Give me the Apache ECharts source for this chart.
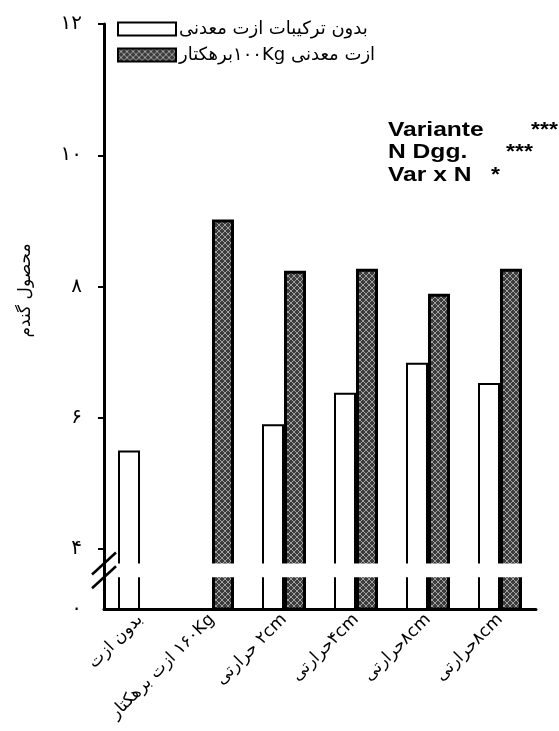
<!DOCTYPE html>
<html><head><meta charset="utf-8">
<script src="https://cdn.jsdelivr.net/npm/echarts@6/dist/echarts.min.js"></script>
<style>html,body{margin:0;padding:0;background:#fff}#c{width:559px;height:731px}</style>
</head><body><div id="c"></div>
<script>
// ---- data ----
const categories = ['بدون ازت', '۱۶۰Kg ازت برهکتار', '۲cm حرارتی', '۴cmحرارتی', '۸cmحرارتی', '۸cmحرارتی\u200B'];
const seriesNames = ['بدون ترکیبات ازت معدنی', 'ازت معدنی ۱۰۰Kgبرهکتار'];
const noMineralN = [5.5, null, 5.9, 6.38, 6.84, 6.53];
const withMineralN = [null, 9.02, 8.24, 8.27, 7.89, 8.27];
const yTickValues = [4, 6, 8, 10, 12];
const yTickLabels = ['۴', '۶', '۸', '۱۰', '۱۲'];
const yZeroLabel = '۰';
const yName = 'محصول گندم';
const statLabels = ['Variante', 'N Dgg.', 'Var x N'];
const statStars = ['***', '***', '*'];

// ---- layout ----
const Y_MIN = 3.086;          // axis bottom (broken axis, shown as 0)
const GAP = [3.57, 3.78];     // break band
const RLE = s => '\u202B' + s + '\u202C';
const FA = 'DejaVu Sans';

function hatch() {
  const c = document.createElement('canvas');
  c.width = c.height = 6;
  const g = c.getContext('2d');
  g.fillStyle = '#3c3c3c'; g.fillRect(0, 0, 6, 6);
  g.strokeStyle = '#a0a0a0'; g.lineWidth = 1;
  g.beginPath(); g.moveTo(0, 6); g.lineTo(6, 0); g.moveTo(0, 0); g.lineTo(6, 6); g.stroke();
  return c;
}

const chart = echarts.init(document.getElementById('c'), null, {renderer: 'canvas'});
const option = {
  animation: false,
  backgroundColor: '#fff',
  grid: {left: 104, right: 23, top: 24, bottom: 122},
  legend: {
    left: 117, top: 20, orient: 'vertical', padding: 0,
    itemWidth: 58, itemHeight: 13, itemGap: 8,
    icon: 'rect',
    selectedMode: false,
    formatter: n => RLE(n),
    textStyle: {fontFamily: FA, fontSize: 18, color: '#000', padding: [0, 0, 0, -2]}
  },
  xAxis: {
    type: 'category', data: categories,
    axisLine: {lineStyle: {color: '#000', width: 3}},
    axisTick: {alignWithLabel: true, length: 6, lineStyle: {color: '#000', width: 2}},
    axisLabel: {rotate: 45, margin: 8, fontFamily: FA, fontSize: 17, color: '#000',
      formatter: v => RLE(v)}
  },
  yAxis: {
    type: 'value', min: Y_MIN, max: 12,
    name: yName, nameLocation: 'middle', nameGap: 70,
    nameTextStyle: {fontFamily: FA, fontSize: 17, color: '#000', padding: [0, 0, 0, 52]},
    splitLine: {show: false},
    axisLine: {show: true, lineStyle: {color: '#000', width: 3}},
    axisTick: {show: true, length: 6, customValues: yTickValues, lineStyle: {color: '#000', width: 2}},
    axisLabel: {
      margin: 22, fontFamily: FA, fontSize: 20, color: '#000',
      customValues: [Y_MIN].concat(yTickValues),
      formatter: v => v < yTickValues[0] ? yZeroLabel : yTickLabels[yTickValues.indexOf(v)]
    }
  },
  series: [
    {name: seriesNames[0], type: 'bar', data: noMineralN, barWidth: 22, barGap: '0%',
      itemStyle: {color: '#fff', borderColor: '#000', borderWidth: 2}},
    {name: seriesNames[1], type: 'bar', data: withMineralN, barWidth: 22, barGap: '0%',
      itemStyle: {color: {image: hatch(), repeat: 'repeat'}, borderColor: '#000', borderWidth: 3}}
  ]
};
chart.setOption(option);

// decorations: axis break band and marks, stats annotation
const axX = chart.convertToPixel({xAxisIndex: 0}, 0) - 36;
const yTop = chart.convertToPixel({yAxisIndex: 0}, GAP[1]);
const yBot = chart.convertToPixel({yAxisIndex: 0}, GAP[0]);
const right = 559 - 23;
const gfx = [
  {type: 'rect', z: 100, shape: {x: axX + 3, y: yTop, width: right - axX - 3, height: yBot - yTop},
    style: {fill: '#fff'}},
  {type: 'line', z: 101, shape: {x1: axX - 12, y1: yTop + 11, x2: axX + 12, y2: yTop - 11},
    style: {stroke: '#000', lineWidth: 2.5}},
  {type: 'line', z: 101, shape: {x1: axX - 12, y1: yBot + 11, x2: axX + 12, y2: yBot - 11},
    style: {stroke: '#000', lineWidth: 2.5}}
];
const rowsY = [130, 152, 175];
const starsX = [531, 506, 491];
statLabels.forEach((t, i) => {
  gfx.push({type: 'text', z: 102, x: 388, y: rowsY[i], scaleX: 1.23,
    style: {text: t, fontFamily: 'Liberation Sans', fontWeight: 'bold', fontSize: 20,
      fill: '#000', verticalAlign: 'middle', align: 'left'}});
  gfx.push({type: 'text', z: 102, x: starsX[i], y: rowsY[i], scaleX: 1.15,
    style: {text: statStars[i], fontFamily: 'Liberation Sans', fontWeight: 'bold', fontSize: 20,
      fill: '#000', verticalAlign: 'middle', align: 'left'}});
});
chart.setOption({graphic: gfx});
</script></body></html>
